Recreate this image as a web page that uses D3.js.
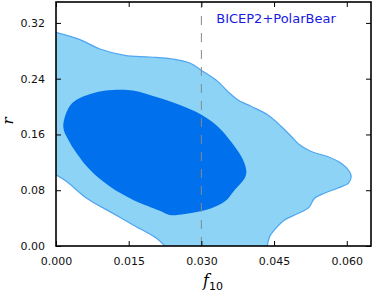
<!DOCTYPE html>
<html><head><meta charset="utf-8">
<script src="https://cdn.jsdelivr.net/npm/d3@7"></script>
<style>body{margin:0;background:#fff}svg{display:block}</style>
</head><body>
<svg id="c" width="374" height="294"></svg>
<script>
// Data (f10, r)
const outerUpper = [[0,0.3065],[0.00494,0.296],[0.00906,0.2826],[0.01421,0.2734],[0.01936,0.2711],[0.0241,0.2682],[0.0276,0.2625],[0.0300,0.2519],[0.03337,0.2361],[0.03543,0.2217],[0.03749,0.2098],[0.04031,0.2001],[0.04367,0.1882],[0.04649,0.1714],[0.04923,0.1523],[0.05026,0.1451],[0.05267,0.1355],[0.05602,0.1283],[0.05885,0.1188],[0.06056,0.1068],[0.06091,0.0996],[0.06035,0.0901],[0.05808,0.0829],[0.05541,0.0757],[0.05335,0.0685],[0.05215,0.0550],[0.04990,0.0465],[0.04716,0.0374],[0.04530,0.0250],[0.04408,0.0134],[0.04361,0]];
const outerLower = [[0.02245,0],[0.02074,0.0111],[0.01592,0.0302],[0.01112,0.0493],[0.00632,0.0685],[0.0022,0.0924],[0,0.102]];
const inner = [[0.0015,0.1714],[0.00288,0.2011],[0.00494,0.2122],[0.00906,0.2217],[0.0125,0.2241],[0.01586,0.2231],[0.02142,0.2122],[0.02698,0.1983],[0.0300,0.1882],[0.03337,0.1714],[0.03687,0.1427],[0.03858,0.1236],[0.03928,0.1068],[0.03893,0.0973],[0.03687,0.0805],[0.03481,0.0637],[0.03207,0.0542],[0.02931,0.0493],[0.02657,0.046],[0.02348,0.0445],[0.02142,0.0507],[0.01592,0.0661],[0.01112,0.0852],[0.007,0.1092],[0.00426,0.1332],[0.00253,0.1523]];
const xTicks = [0, 0.015, 0.030, 0.045, 0.060];
const yTicks = [0, 0.08, 0.16, 0.24, 0.32];
const dashX = 0.030;
const label = "BICEP2+PolarBear";

const W=374,H=294, m={l:56,r:3,t:2,b:48};
const svg=d3.select("#c");
const x=d3.scaleLinear().domain([0,0.065]).range([m.l,W-m.r]);
const y=d3.scaleLinear().domain([0,0.35]).range([H-m.b,m.t]);

svg.append("clipPath").attr("id","cp").append("rect")
  .attr("x",m.l).attr("y",m.t).attr("width",W-m.l-m.r).attr("height",H-m.t-m.b);
const g=svg.append("g").attr("clip-path","url(#cp)");

const ln=d3.line().x(d=>x(d[0])).y(d=>y(d[1])).curve(d3.curveCatmullRom.alpha(0.5));
const p1=ln(outerUpper), p2=ln(outerLower);
const outerPath=p1+"L"+p2.slice(1)+"Z";
g.append("path").attr("d",outerPath).attr("fill","#8dd3f6");
g.append("path").attr("d",p1).attr("fill","none").attr("stroke","#4fa5f0").attr("stroke-width",1.2);
g.append("path").attr("d",p2).attr("fill","none").attr("stroke","#4fa5f0").attr("stroke-width",1.2);

const lnc=d3.line().x(d=>x(d[0])).y(d=>y(d[1])).curve(d3.curveCatmullRomClosed.alpha(0.5));
g.append("path").attr("d",lnc(inner)).attr("fill","#0070ec");

g.append("line").attr("x1",x(dashX)).attr("x2",x(dashX)).attr("y1",y(0)).attr("y2",y(0.35))
  .attr("stroke","#888").attr("stroke-width",1).attr("stroke-dasharray","9,8");

// axes
const fs="DejaVu Sans";
const ax=d3.axisBottom(x).tickValues(xTicks).tickFormat(d3.format(".3f")).tickSizeInner(-5).tickSizeOuter(0).tickPadding(11);
const axT=d3.axisTop(x).tickValues(xTicks).tickFormat("").tickSizeInner(-5).tickSizeOuter(0);
const ay=d3.axisLeft(y).tickValues(yTicks).tickFormat(d3.format(".2f")).tickSizeInner(-5).tickSizeOuter(0).tickPadding(11);
const ayR=d3.axisRight(y).tickValues(yTicks).tickFormat("").tickSizeInner(-5).tickSizeOuter(0);
function style(s){s.select(".domain").remove();s.selectAll("line").attr("stroke","#000").attr("stroke-width",1);
  s.selectAll("text").attr("font-family",fs).attr("font-size",11).attr("fill","#111");}
svg.append("g").attr("transform",`translate(0,${H-m.b})`).call(ax).call(style);
svg.append("g").attr("transform",`translate(0,${m.t})`).call(axT).call(style);
svg.append("g").attr("transform",`translate(${m.l},0)`).call(ay).call(style);
svg.append("g").attr("transform",`translate(${W-m.r},0)`).call(ayR).call(style);

svg.append("rect").attr("x",m.l).attr("y",m.t).attr("width",W-m.l-m.r).attr("height",H-m.t-m.b)
  .attr("fill","none").attr("stroke","#000").attr("stroke-width",1.6);

svg.append("text").attr("x",276).attr("y",23).attr("text-anchor","middle")
  .attr("font-family",fs).attr("font-size",13).attr("fill","#1a1ae0").text(label);

const xl=svg.append("text").attr("x",213).attr("y",286).attr("text-anchor","middle")
  .attr("font-family","DejaVu Serif").attr("font-size",16);
xl.append("tspan").attr("font-style","italic").text("f");
xl.append("tspan").attr("font-family",fs).attr("font-size",11).attr("dy",4).text("10");

svg.append("text").attr("transform","translate(13,121) rotate(-90)").attr("text-anchor","middle")
  .attr("font-family","DejaVu Serif").attr("font-style","italic").attr("font-size",15).text("r");
</script>
</body></html>
